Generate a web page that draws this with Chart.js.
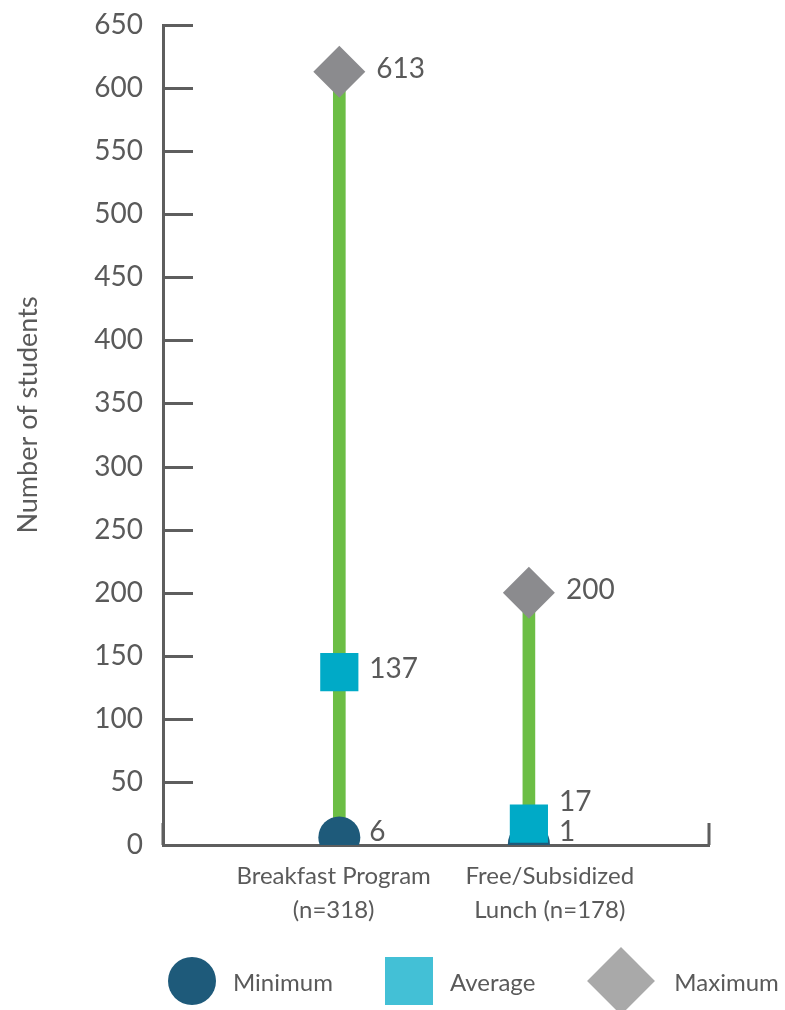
<!DOCTYPE html>
<html>
<head>
<meta charset="utf-8">
<script src="https://cdn.jsdelivr.net/npm/chart.js@4.4.1/dist/chart.umd.min.js"></script>
<style>
  html, body { margin: 0; padding: 0; background: #ffffff; }
  #wrap { position: relative; width: 785px; height: 1010px; overflow: hidden; }
  #chart { position: absolute; left: 0; top: 0; }
  #legend {
    position: absolute; left: 168px; top: 956px; height: 50px;
    display: flex; align-items: center; gap: 52px;
    font-family: Lato, "Noto Sans", sans-serif; font-size: 24px; color: #5a5a5a;
  }
  .item { display: flex; align-items: center; gap: 17px; }
  .swatch { width: 48px; height: 48px; flex: none; }
  .swatch.circle { border-radius: 50%; }
  .swatch.rectRot { width: 48px; height: 48px; transform: rotate(45deg); margin: 0 10px; }
  .swatch.rectRot + span { margin-left: 2px; }
</style>
</head>
<body>
<div id="wrap">
  <canvas id="chart" width="785" height="1010"></canvas>
  <div id="legend"></div>
</div>
<script>
// Programs shown along the horizontal axis
const categories = [
  ['Breakfast Program', '(n=318)'],
  ['Free/Subsidized', 'Lunch (n=178)']
];

// Students per school, by program
const minValues = [6, 1];
const avgValues = [137, 17];
const maxValues = [613, 200];

// Series names, marker shapes and colours
const seriesNames = ['Minimum', 'Average', 'Maximum'];
const seriesShapes = ['circle', 'rect', 'rectRot'];
const seriesColors = ['#1e5a7a', '#00aac7', '#8b8b8e'];
const legendColors = ['#1e5a7a', '#43c0d6', '#a9a9a9'];

// Vertical axis range
const yMin = 0;
const yMax = 650;
const yStep = 50;
const yTitle = 'Number of students';

const FONT = 'Lato, "Noto Sans", sans-serif';
const TEXT = '#5a5a5a';
const AXIS = '#5e5e5e';
const RANGE_GREEN = '#6cbe45';

// Small horizontal nudge for each category caption
const captionNudge = [-0.03, 0.11];

const seriesValues = [minValues, avgValues, maxValues];
const pointSize = [21, 27, 26];

// Short inward tick marks on the value axis and end caps on the category axis
const axisMarks = {
  id: 'axisMarks',
  beforeDatasetsDraw(chart) {
    const { ctx, chartArea, scales } = chart;
    ctx.save();
    ctx.strokeStyle = AXIS;
    ctx.lineWidth = 3;
    ctx.beginPath();
    scales.y.ticks.forEach(t => {
      const y = Math.round(scales.y.getPixelForValue(t.value)) + 0.5;
      ctx.moveTo(chartArea.left, y);
      ctx.lineTo(chartArea.left + 30, y);
    });
    [chartArea.left, chartArea.right].forEach(x => {
      ctx.moveTo(x, chartArea.bottom);
      ctx.lineTo(x, chartArea.bottom - 22);
    });
    ctx.stroke();

    // rotated value-axis title, set a little above the middle of the plot
    ctx.fillStyle = TEXT;
    ctx.font = '27px ' + FONT;
    ctx.textAlign = 'center';
    ctx.textBaseline = 'middle';
    ctx.translate(28, (chartArea.top + chartArea.bottom) / 2 - 20);
    ctx.rotate(-Math.PI / 2);
    ctx.fillText(yTitle, 0, 0);
    ctx.restore();
  }
};

// Value captions beside each marker
const valueLabels = {
  id: 'valueLabels',
  afterDatasetsDraw(chart) {
    const { ctx, chartArea } = chart;
    ctx.save();
    ctx.font = '28px ' + FONT;
    ctx.fillStyle = TEXT;
    ctx.textAlign = 'left';
    ctx.textBaseline = 'middle';
    const gapX = [30, 30, 37];
    categories.forEach((c, i) => {
      // datasets 1..3 are min, avg, max
      const placed = [];
      for (let s = 0; s < 3; s++) {
        const el = chart.getDatasetMeta(s + 1).data[i];
        let y = el.y - 3;
        if (s === 0) y = Math.min(y, chartArea.bottom - 13);
        placed.push({ x: el.x + gapX[s], y, text: String(seriesValues[s][i]) });
      }
      for (let s = 1; s < 3; s++) {
        if (placed[s - 1].y - placed[s].y < 30) placed[s].y = placed[s - 1].y - 30;
      }
      placed.forEach(p => ctx.fillText(p.text, p.x, p.y));
    });
    ctx.restore();
  }
};

const datasets = [
  {
    type: 'bar',
    label: 'Range',
    data: categories.map((c, i) => ({ x: i, y: [minValues[i], maxValues[i]] })),
    backgroundColor: RANGE_GREEN,
    borderWidth: 0,
    barThickness: 12,
    order: 3
  }
];
seriesNames.forEach((name, s) => {
  datasets.push({
    type: 'scatter',
    label: name,
    data: categories.map((c, i) => ({ x: i, y: seriesValues[s][i] })),
    pointStyle: seriesShapes[s],
    pointRadius: pointSize[s],
    pointHoverRadius: pointSize[s],
    backgroundColor: seriesColors[s],
    borderWidth: 0,
    order: 2 - s
  });
});

new Chart(document.getElementById('chart'), {
  type: 'scatter',
  data: { datasets },
  plugins: [axisMarks, valueLabels],
  options: {
    responsive: false,
    animation: false,
    events: [],
    layout: { autoPadding: false, padding: { top: 25, right: 76, bottom: 0, left: 0 } },
    plugins: { legend: { display: false }, tooltip: { enabled: false } },
    scales: {
      x: {
        type: 'linear',
        offset: false,
        min: -0.93,
        max: 1.95,
        afterFit(scale) { scale.height = 165; },
        afterBuildTicks(scale) {
          scale.ticks = categories.map((c, i) => ({ value: i + captionNudge[i] }));
        },
        grid: { display: false, drawTicks: false, offset: false },
        border: { display: true, color: AXIS, width: 3 },
        ticks: {
          autoSkip: false,
          maxRotation: 0,
          padding: 14,
          color: TEXT,
          font: { family: FONT, size: 24, lineHeight: 1.42 },
          callback: (v, idx) => categories[idx]
        }
      },
      y: {
        type: 'linear',
        min: yMin,
        max: yMax,
        afterFit(scale) { scale.width = 163; },
        // grid lines hidden; the tick length only sets the gap before the labels
        grid: { display: false, drawTicks: true, tickLength: 20 },
        border: { display: true, color: AXIS, width: 3 },
        ticks: {
          stepSize: yStep,
          padding: 0,
          color: TEXT,
          font: { family: FONT, size: 28 }
        }
      }
    }
  }
});

// Legend built from the series names and shapes
const legend = document.getElementById('legend');
seriesNames.forEach((name, s) => {
  const item = document.createElement('div');
  item.className = 'item';
  const sw = document.createElement('div');
  sw.className = 'swatch ' + seriesShapes[s];
  sw.style.background = legendColors[s];
  const label = document.createElement('span');
  label.textContent = name;
  item.appendChild(sw);
  item.appendChild(label);
  legend.appendChild(item);
});
</script>
</body>
</html>
